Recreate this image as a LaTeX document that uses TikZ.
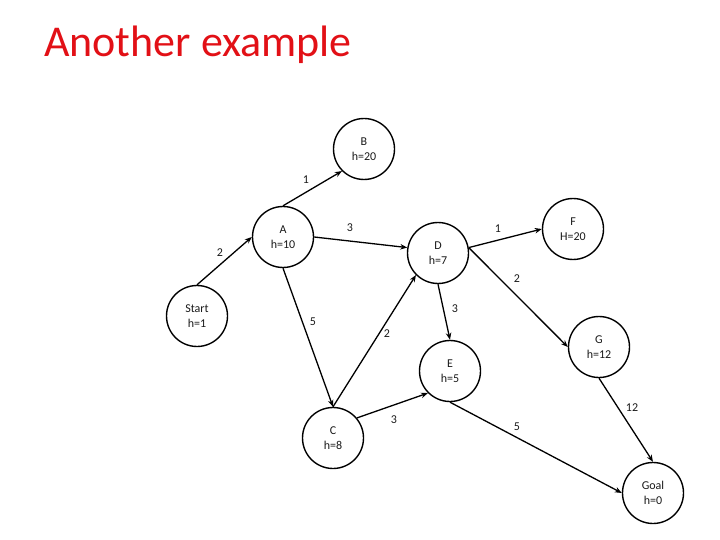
\documentclass[tikz,border=0pt]{standalone}
\usepackage{fontspec}
\setmainfont{Carlito}
\usepackage{xcolor}
\usepackage{tikz}
\usetikzlibrary{arrows.meta}
\definecolor{titlered}{RGB}{226,16,22}
\tikzstyle{arrow} = [line width=1.3pt,-{Stealth[length=7pt,width=5.5pt]}]
\tikzstyle{hnode} = [draw, circle, line width=1.4pt, minimum size=61pt, inner sep=0pt, align=center, font=\fontsize{12}{14.5}\selectfont, text=black!90]
\tikzstyle{cost} = [inner sep=0pt, font=\fontsize{12}{14}\selectfont, text=black!90]

\begin{document}
\begin{tikzpicture}[x=1pt, y=-1pt]
\useasboundingbox (0,0) rectangle (720,540);
% Title
\node (title) [anchor=base west, inner sep=0pt, text=titlered, font=\fontsize{44}{50}\selectfont] at (44,57) {Another example};

% Nodes
\node (start) [hnode] at (197,316) {Start\\h=1};
\node (a) [hnode] at (283,237) {A\\h=10};
\node (b) [hnode] at (364,149) {B\\h=20};
\node (c) [hnode] at (333,438) {C\\h=8};
\node (d) [hnode] at (438,253) {D\\h=7};
\node (e) [hnode] at (450,371) {E\\h=5};
\node (f) [hnode] at (573,229) {F\\H=20};
\node (g) [hnode] at (599,347) {G\\h=12};
\node (goal) [hnode] at (653,493) {Goal\\h=0};

% Edges
\draw [arrow] (start.north) -- (a.west);
\draw [arrow] (a.north) -- (b.225);
\draw [arrow] (a.east) -- (d.170);
\draw [arrow] (a.south) -- (c.north);
\draw [arrow] (c.north) -- (d.225);
\draw [arrow] (d.south) -- (e.north);
\draw [arrow] (d.10) -- (f.west);
\draw [arrow] (d.10) -- (g.west);
\draw [arrow] (c.40) -- (e.225);
\draw [arrow] (e.south) -- (goal.west);
\draw [arrow] (g.south) -- (goal.north);

% Costs
\node (wSA) [cost] at (220,253) {2};
\node (wAB) [cost] at (306,180) {1};
\node (wAD) [cost] at (350,228) {3};
\node (wAC) [cost] at (313,322) {5};
\node (wCD) [cost] at (387,334) {2};
\node (wDE) [cost] at (455,309) {3};
\node (wDF) [cost] at (498,229) {1};
\node (wDG) [cost] at (517,279) {2};
\node (wCE) [cost] at (394,420) {3};
\node (wEG) [cost] at (517,427) {5};
\node (wGG) [cost] at (632,408) {12};
\end{tikzpicture}
\end{document}
